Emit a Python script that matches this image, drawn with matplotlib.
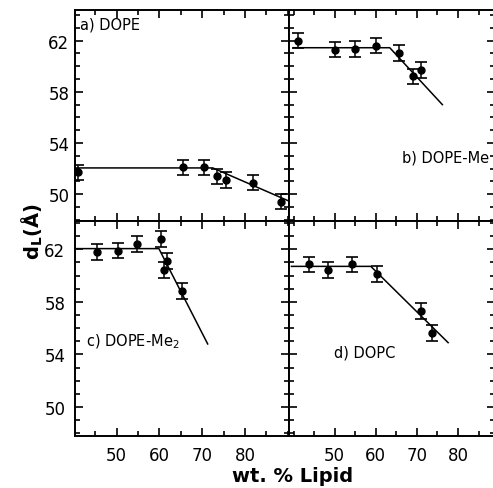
import numpy as np
import matplotlib
matplotlib.use("Agg")
import matplotlib.pyplot as plt
from matplotlib.ticker import MultipleLocator

# measured points (wt % lipid, d_L in angstrom)
a_x = [41.0, 65.5, 70.5, 73.5, 75.5, 82.0, 88.5]
a_y = [51.7, 52.1, 52.1, 51.4, 51.1, 50.9, 49.4]
b_x = [41.2, 50.2, 55.0, 60.1, 65.6, 69.0, 70.9]
b_y = [62.0, 61.3, 61.35, 61.6, 61.05, 59.2, 59.7]
c_x = [45.4, 50.4, 54.7, 60.3, 61.0, 61.9, 65.3]
c_y = [61.8, 61.9, 62.4, 62.8, 60.4, 61.1, 58.8]
d_x = [43.8, 48.4, 54.3, 60.4, 70.9, 73.7]
d_y = [60.85, 60.4, 60.85, 60.1, 57.3, 55.65]
err = 0.6

# fitted lines (break points)
a_fit_x = [40.3, 72.5, 90.0]
a_fit_y = [52.05, 52.05, 49.5]
b_fit_x = [40.0, 63.4, 76.2]
b_fit_y = [61.45, 61.45, 57.0]
c_fit_x = [40.3, 59.9, 71.3]
c_fit_y = [62.05, 62.05, 54.8]
d_fit_x = [39.5, 58.8, 77.6]
d_fit_y = [60.7, 60.7, 54.9]

labels = ["a) DOPE", "b) DOPE-Me", "c) DOPE-Me$_2$", "d) DOPC"]

W, H = 493, 489
fig = plt.figure(figsize=(W / 100, H / 100), dpi=100)
plt.rcParams['font.family'] = ['DejaVu Sans']

def px_axes(x0, y0, x1, y1):
    return fig.add_axes([x0 / W, 1 - y1 / H, (x1 - x0) / W, (y1 - y0) / H])

axa = px_axes(75, 11, 289, 222)
axb = px_axes(289, 11, 495, 222)
axc = px_axes(75, 222, 289, 437)
axd = px_axes(289, 222, 495, 437)

panels = [
    (axa, a_x, a_y, a_fit_x, a_fit_y, (40.3, 90.3), (47.9, 64.4)),
    (axb, b_x, b_y, b_fit_x, b_fit_y, (38.9, 89.0), (47.9, 64.4)),
    (axc, c_x, c_y, c_fit_x, c_fit_y, (40.3, 90.3), (47.8, 64.15)),
    (axd, d_x, d_y, d_fit_x, d_fit_y, (38.9, 89.0), (47.8, 64.15)),
]

for ax, x, y, fx, fy, xl, yl in panels:
    ax.plot(fx, fy, color='black', lw=1.1)
    ax.errorbar(x, y, yerr=err, fmt='o', color='black', ms=5,
                elinewidth=1.1, capsize=4, capthick=1.2)
    ax.set_xlim(*xl)
    ax.set_ylim(*yl)
    ax.xaxis.set_major_locator(MultipleLocator(10))
    ax.xaxis.set_minor_locator(MultipleLocator(5))
    ax.yaxis.set_major_locator(MultipleLocator(4))
    ax.yaxis.set_minor_locator(MultipleLocator(1))
    ax.set_yticks([50, 54, 58, 62])
    ax.set_xticks([50, 60, 70, 80])
    ax.tick_params(which='both', direction='in', top=True, right=True,
                   labelbottom=False, labelleft=False, width=1.2, labelsize=12)
    ax.tick_params(which='major', length=6)
    ax.tick_params(which='minor', length=3.5)
    for s in ax.spines.values():
        s.set_linewidth(1.4)

axb.spines['right'].set_visible(False)
axd.spines['right'].set_visible(False)

for ax in (axa, axc):
    ax.tick_params(labelleft=True, pad=4)
for ax in (axc, axd):
    ax.tick_params(labelbottom=True, pad=7)

axa.text(0.025, 0.935, labels[0], transform=axa.transAxes, fontsize=10.5, va='center')
axb.text(0.55, 0.305, labels[1], transform=axb.transAxes, fontsize=10.5, va='center')
axc.text(0.05, 0.445, labels[2], transform=axc.transAxes, fontsize=10.5, va='center')
axd.text(0.22, 0.39, labels[3], transform=axd.transAxes, fontsize=10.5, va='center')

fig.text(32 / W, 1 - 232 / H, "d$_\\mathregular{L}$(Å)", rotation=90, fontsize=14,
         fontweight='bold', ha='center', va='center')
fig.text(293 / W, 1 - 477 / H, "wt. % Lipid", fontsize=14, fontweight='bold',
         ha='center', va='center')

fig.savefig("out.png", dpi=100)
